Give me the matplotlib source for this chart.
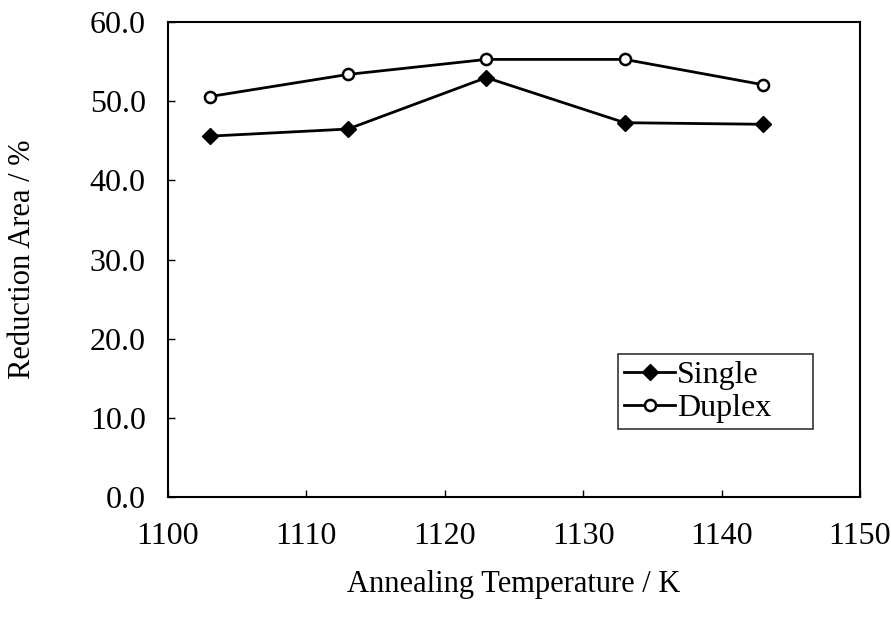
import numpy as np
import matplotlib.pyplot as plt

temps = [1103, 1113, 1123, 1133, 1143]
single = [45.6, 46.5, 53.0, 47.3, 47.1]
duplex = [50.6, 53.4, 55.3, 55.3, 52.1]

x_ticks = [1100, 1110, 1120, 1130, 1140, 1150]
y_ticks = [0, 10, 20, 30, 40, 50, 60]

plt.rcParams['font.family'] = ['Liberation Serif', 'DejaVu Serif']

fig = plt.figure(figsize=(8.91, 6.17), dpi=100)
ax = fig.add_axes([0.1886, 0.1945, 0.7766, 0.7695])

ax.plot(temps, single, color="black", lw=2, marker="D", markersize=8,
        markerfacecolor="black", label="Single")
ax.plot(temps, duplex, color="black", lw=2, marker="o", markersize=8,
        markerfacecolor="white", markeredgewidth=1.8, label="Duplex")

ax.set_xlim(1100, 1150)
ax.set_ylim(0, 60)
ax.set_xticks(x_ticks)
ax.set_yticks(y_ticks)
ax.set_yticklabels([f"{v:.1f}" for v in y_ticks])
ax.tick_params(direction="in", length=5, width=1, labelsize=23)
ax.tick_params(axis="y", pad=16)
ax.tick_params(axis="x", pad=18)
for s in ax.spines.values():
    s.set_linewidth(1.5)

ax.set_xlabel("Annealing Temperature / K", fontsize=22, labelpad=14)
ax.set_ylabel("Reduction Area / %", fontsize=22, labelpad=38)

leg = ax.legend(loc="lower left", bbox_to_anchor=(0.65, 0.143, 0.282, 0.181),
                mode="expand", fontsize=23, frameon=True, fancybox=False,
                edgecolor="black", handlelength=1.6, handletextpad=0.05,
                borderpad=0.2, labelspacing=0.1, borderaxespad=0)
leg.get_frame().set_linewidth(1.2)

fig.savefig("out.png", dpi=100)
